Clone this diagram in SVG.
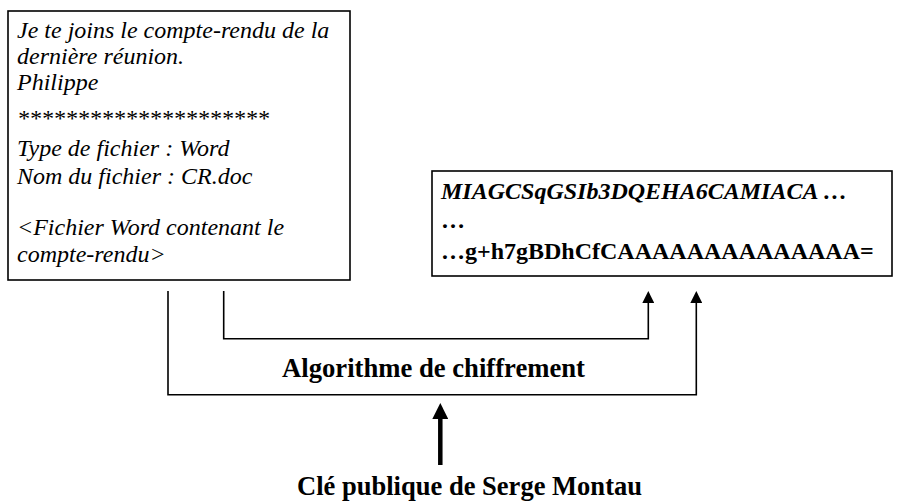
<svg xmlns="http://www.w3.org/2000/svg" width="906" height="501" viewBox="0 0 906 501">
  <defs>
    <marker id="arrow" viewBox="0 0 12 12" markerWidth="12" markerHeight="12" markerUnits="userSpaceOnUse" refX="0" refY="6" orient="auto">
      <path d="M0,0 L12,6 L0,12 z" fill="#000"/>
    </marker>
    <marker id="arrowBig" viewBox="0 0 16 16" markerWidth="16" markerHeight="16" markerUnits="userSpaceOnUse" refX="0" refY="8" orient="auto">
      <path d="M0,0 L16,8 L0,16 z" fill="#000"/>
    </marker>
  </defs>
  <style>
    .box { fill: #fff; stroke: #000; stroke-width: 1.6; }
    .it { font-family: "Liberation Serif", "Times New Roman", serif; font-style: italic; font-size: 24px; fill: #000; }
    .bd { font-family: "Liberation Serif", "Times New Roman", serif; font-weight: bold; font-size: 24px; fill: #000; }
    .bi { font-family: "Liberation Serif", "Times New Roman", serif; font-weight: bold; font-style: italic; font-size: 24px; fill: #000; }
    .lbl { font-family: "Liberation Serif", "Times New Roman", serif; font-weight: bold; font-size: 26.5px; fill: #000; }
    .conn { fill: none; stroke: #000; stroke-width: 1.6; }
    .thick { fill: none; stroke: #000; stroke-width: 4.5; }
  </style>
  <rect width="906" height="501" fill="#fff"/>

  <g id="node-message">
    <rect class="box" x="8" y="11" width="342" height="269"/>
    <text class="it" x="17" y="38">Je te joins le compte-rendu de la</text>
    <text class="it" x="17" y="64">dernière réunion.</text>
    <text class="it" x="17" y="90">Philippe</text>
    <text class="it" x="17" y="126">*********************</text>
    <text class="it" x="17" y="156">Type de fichier : Word</text>
    <text class="it" x="17" y="184">Nom du fichier : CR.doc</text>
    <text class="it" x="17" y="235">&lt;Fichier Word contenant le</text>
    <text class="it" x="17" y="262">compte-rendu&gt;</text>
  </g>

  <g id="node-cipher">
    <rect class="box" x="432" y="171" width="460" height="105"/>
    <text class="bi" x="441" y="199">MIAGCSqGSIb3DQEHA6CAMIACA …</text>
    <text class="bd" x="441" y="228">…</text>
    <text class="bd" x="441" y="259">…g+h7gBDhCfCAAAAAAAAAAAAAA=</text>
  </g>

  <g id="node-algorithm">
    <text class="lbl" x="282" y="377" textLength="303" lengthAdjust="spacingAndGlyphs">Algorithme de chiffrement</text>
  </g>

  <g id="node-key">
    <text class="lbl" x="297" y="494.5" textLength="345" lengthAdjust="spacingAndGlyphs">Clé publique de Serge Montau</text>
  </g>

  <g id="connectors">
    <path class="conn" d="M223.7,291 V338.7 H648.3 V303" marker-end="url(#arrow)"/>
    <path class="conn" d="M168,291 V394.7 H696.3 V303" marker-end="url(#arrow)"/>
    <path class="thick" d="M440.3,465 V419" marker-end="url(#arrowBig)"/>
  </g>
</svg>
